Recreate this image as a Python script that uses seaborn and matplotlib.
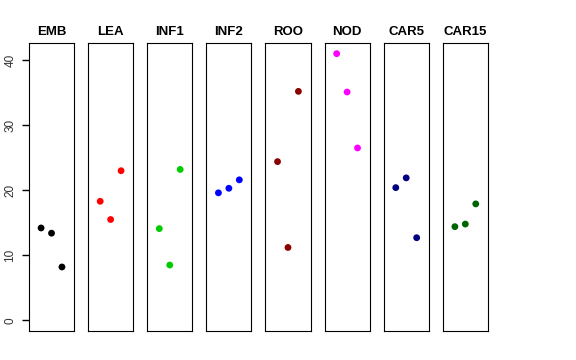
import pandas as pd
import numpy as np
import matplotlib
matplotlib.use("Agg")
import matplotlib.pyplot as plt
import seaborn as sns

# values, 3 samples per tissue
tissues = ["EMB", "LEA", "INF1", "INF2", "ROO", "NOD", "CAR5", "CAR15"]
colors = ["black", "red", "#00CD00", "blue", "#8B0000", "magenta", "#000080", "#006400"]
rep1 = [14.2, 18.3, 14.1, 19.6, 24.4, 41.0, 20.4, 14.4]
rep2 = [13.4, 15.5, 8.5, 20.3, 11.2, 35.1, 21.9, 14.8]
rep3 = [8.2, 23.0, 23.2, 21.6, 35.2, 26.5, 12.7, 17.9]
yticks = [0, 10, 20, 30, 40]

df = pd.DataFrame({
    "tissue": np.repeat(tissues, 3),
    "rep": [1, 2, 3] * len(tissues),
    "value": np.ravel(np.column_stack([rep1, rep2, rep3])),
})

sns.set_style("ticks", {"text.color": "black", "axes.labelcolor": "black",
                        "xtick.color": "black", "ytick.color": "black",
                        "axes.edgecolor": "black"})
plt.rcParams["font.family"] = ["Liberation Sans", "DejaVu Sans"]

fig, axes = plt.subplots(1, len(tissues), figsize=(5.76, 3.6), dpi=100)
fig.subplots_adjust(left=0.0503, right=0.847, bottom=0.0806, top=0.8806, wspace=0.311)

ymax = df["value"].max()
for i, (ax, t, c) in enumerate(zip(axes, tissues, colors)):
    sub = df[df["tissue"] == t]
    sns.scatterplot(x="rep", y="value", data=sub, color=c, s=24, edgecolor="none", ax=ax)
    ax.set_xlim(-0.16, 4.16)
    ax.set_ylim(-0.04 * ymax, ymax * 1.04)
    ax.set_title(t, fontsize=9.5, fontweight="bold", pad=6, color="black")
    ax.set_xticks([])
    ax.set_xlabel("")
    ax.set_ylabel("")
    for sp in ax.spines.values():
        sp.set_visible(True)
        sp.set_color("black")
        sp.set_linewidth(0.8)
    if i == 0:
        ax.set_yticks(yticks)
        ax.tick_params(axis="y", left=True, labelleft=True, length=5, width=1.0,
                       labelsize=8.5, pad=4, color="black", labelcolor="#333333",
                       direction="out")
        for lab in ax.get_yticklabels():
            lab.set_rotation(90)
            lab.set_va("center")
    else:
        ax.set_yticks([])

fig.savefig("out.png", dpi=100)
